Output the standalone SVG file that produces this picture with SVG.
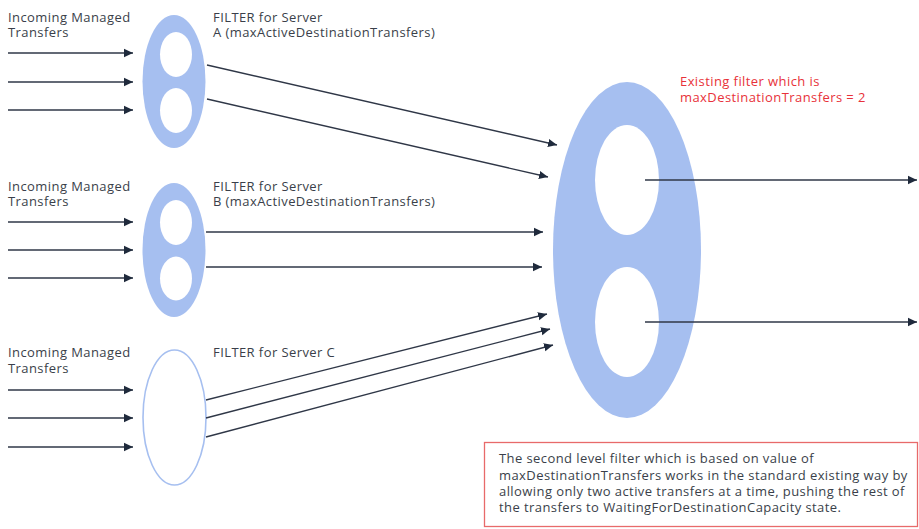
<svg xmlns="http://www.w3.org/2000/svg" width="919" height="529" viewBox="0 0 919 529">
<style>
text{font-family:"Open Sans","Liberation Sans",sans-serif;font-size:13px;letter-spacing:0.42px;fill:#3a3f4a}
.red{fill:#e8323a}
.blue{fill:#a6bff0}
.hole{fill:#ffffff}
.c{stroke:#2f3747;stroke-width:1.4;fill:none}
</style>
<defs>
<marker id="ah" markerUnits="userSpaceOnUse" markerWidth="10" markerHeight="10" refX="9" refY="5" orient="auto">
<path d="M0,0.8 L9,5 L0,9.2 Z" fill="#1f2a3c"/>
</marker>
</defs>
<rect width="919" height="529" fill="#ffffff"/>
<g id="label-a">
<text x="8" y="22">Incoming Managed</text>
<text x="8" y="37">Transfers</text>
</g>
<g id="filter-a">
<ellipse class="blue" cx="174" cy="81.5" rx="31.5" ry="66.5"/>
<ellipse class="hole" cx="176" cy="54.5" rx="16" ry="22.5"/>
<ellipse class="hole" cx="176" cy="110.5" rx="16" ry="22.5"/>
<text x="213" y="22">FILTER for Server</text>
<text x="213" y="37">A (maxActiveDestinationTransfers)</text>
</g>
<g id="label-b">
<text x="8" y="191">Incoming Managed</text>
<text x="8" y="206">Transfers</text>
</g>
<g id="filter-b">
<ellipse class="blue" cx="174" cy="250" rx="31.5" ry="67"/>
<ellipse class="hole" cx="176" cy="222.5" rx="16" ry="22.5"/>
<ellipse class="hole" cx="176" cy="278.5" rx="16" ry="22"/>
<text x="213" y="191">FILTER for Server</text>
<text x="213" y="206">B (maxActiveDestinationTransfers)</text>
</g>
<g id="label-c">
<text x="8" y="357">Incoming Managed</text>
<text x="8" y="373">Transfers</text>
</g>
<g id="filter-c">
<ellipse cx="174.5" cy="417.5" rx="31.5" ry="67.5" fill="#ffffff" stroke="#a6bff0" stroke-width="1.6"/>
<text x="213" y="357">FILTER for Server C</text>
</g>
<g id="filter-main">
<ellipse class="blue" cx="627" cy="250" rx="74" ry="168"/>
<ellipse class="hole" cx="627" cy="180" rx="32" ry="55"/>
<ellipse class="hole" cx="627" cy="322" rx="32" ry="55"/>
<text class="red" x="680" y="86">Existing filter which is</text>
<text class="red" x="680" y="102">maxDestinationTransfers = 2</text>
</g>
<g id="note">
<rect x="484.5" y="442.5" width="433" height="84" fill="#ffffff" stroke="#e86a6a" stroke-width="1.3"/>
<text x="499" y="463">The second level filter which is based on value of</text>
<text x="499" y="480">maxDestinationTransfers works in the standard existing way by</text>
<text x="499" y="496">allowing only two active transfers at a time, pushing the rest of</text>
<text x="499" y="512">the transfers to WaitingForDestinationCapacity state.</text>
</g>
<g id="connectors">
<line class="c" x1="8" y1="53" x2="133" y2="53" marker-end="url(#ah)"/>
<line class="c" x1="8" y1="82" x2="133" y2="82" marker-end="url(#ah)"/>
<line class="c" x1="8" y1="110" x2="133" y2="110" marker-end="url(#ah)"/>
<line class="c" x1="8" y1="222" x2="133" y2="222" marker-end="url(#ah)"/>
<line class="c" x1="8" y1="250" x2="133" y2="250" marker-end="url(#ah)"/>
<line class="c" x1="8" y1="278" x2="133" y2="278" marker-end="url(#ah)"/>
<line class="c" x1="8" y1="390" x2="133" y2="390" marker-end="url(#ah)"/>
<line class="c" x1="8" y1="418" x2="133" y2="418" marker-end="url(#ah)"/>
<line class="c" x1="8" y1="447" x2="133" y2="447" marker-end="url(#ah)"/>
<line class="c" x1="207" y1="65" x2="557" y2="145" marker-end="url(#ah)"/>
<line class="c" x1="207" y1="99" x2="548" y2="177" marker-end="url(#ah)"/>
<line class="c" x1="206" y1="232" x2="543" y2="232" marker-end="url(#ah)"/>
<line class="c" x1="206" y1="267" x2="542" y2="267" marker-end="url(#ah)"/>
<line class="c" x1="206" y1="400" x2="547" y2="314" marker-end="url(#ah)"/>
<line class="c" x1="206" y1="418" x2="550" y2="329" marker-end="url(#ah)"/>
<line class="c" x1="206" y1="437" x2="553" y2="345" marker-end="url(#ah)"/>
<line class="c" x1="645" y1="180" x2="917" y2="180" marker-end="url(#ah)"/>
<line class="c" x1="645" y1="322" x2="917" y2="322" marker-end="url(#ah)"/>
</g>
</svg>
